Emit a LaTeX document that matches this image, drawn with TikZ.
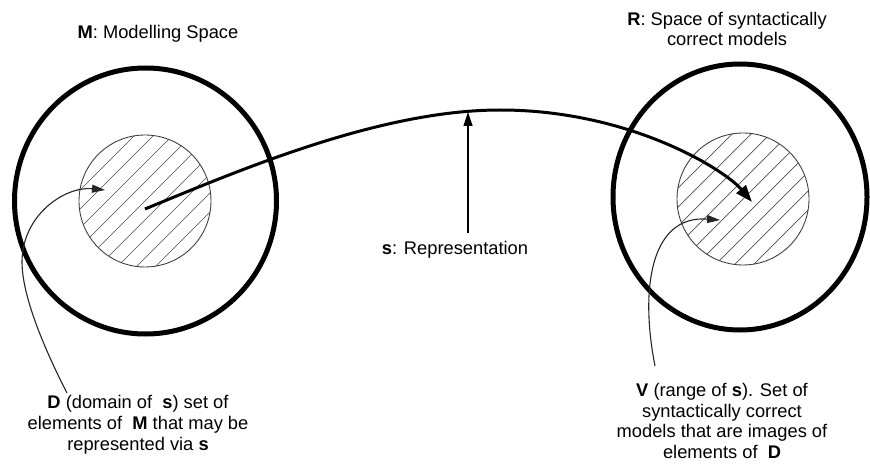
\documentclass[tikz,border=0pt]{standalone}
\usepackage{fontspec}
\setmainfont{Liberation Sans}
\usetikzlibrary{arrows.meta}
\begin{document}
\begin{tikzpicture}[x=1pt,y=-1pt,
  bigcirc/.style={line width=5pt},
  innercirc/.style={draw=black!75,line width=0.9pt},
  hatchline/.style={draw=black!70,line width=0.7pt},
  lbl/.style={font=\fontsize{18.3}{20.8}\selectfont, align=center, inner sep=0pt},
  mainarrow/.style={line width=3pt,-{Triangle[length=17pt,width=12pt]}},
  ptr/.style={line width=1.2pt,-{Triangle[length=14pt,width=9pt]}},
  thinptr/.style={draw=black!85,line width=1.1pt,-{Triangle[length=13pt,width=8pt]}}]
\useasboundingbox (0,0) rectangle (870,465);
% centres
\coordinate (L) at (145.5,201);
\coordinate (R) at (740,197);
\coordinate (Li) at (145,201);
\coordinate (Ri) at (743,199);
% big circles
\draw[bigcirc] (L) ellipse[x radius=131pt, y radius=133pt];
\draw[bigcirc] (R) ellipse[x radius=127pt, y radius=133pt];
% hatched inner circles
\begin{scope}
  \clip (Li) circle[radius=66pt];
  \foreach \k in {-8,...,8} \draw[hatchline] (Li) ++(\k*19-90,90) -- ++(180,-180);
\end{scope}
\draw[innercirc] (Li) circle[radius=66pt];
\begin{scope}
  \clip (Ri) circle[radius=66pt];
  \foreach \k in {-8,...,8} \draw[hatchline] (Ri) ++(\k*19-90,90) -- ++(180,-180);
\end{scope}
\draw[innercirc] (Ri) circle[radius=66pt];
% labels
\node[lbl] (mlab) at (158,34) {\textbf{M}: Modelling Space};
\node[lbl] (rlab) at (727,29) {\textbf{R}: Space of syntactically\\correct models};
\node[lbl] (slab) at (455,250) {\textbf{s}: Representation};
\node[lbl] (dlab) at (138,425) {\textbf{D} (domain of\ \ \textbf{s}) set of\\elements of\ \ \textbf{M} that may be\\represented via \textbf{s}};
\node[lbl] (vlab) at (722,421) {\textbf{V} (range of \textbf{s}). Set of\\syntactically correct\\models that are images of\\elements of\ \ \textbf{D}};
% connector end points
\coordinate (sA) at (145,209);
\coordinate (mpk) at (500,110);
\coordinate (sB) at (752,202);
\coordinate (stip) at (468,112);
\coordinate (sbot) at (468,233);
\coordinate (dA) at (67,393);
\coordinate (dM) at (22,262);
\coordinate (dB) at (105,190);
\coordinate (vA) at (655,366);
\coordinate (vB) at (720,220);
% connectors
\draw[mainarrow] (sA) .. controls (240,170) and (380,110) .. (mpk) .. controls (630,110) and (725,170) .. (sB);
\draw[ptr] (sbot) -- (stip);
\draw[thinptr] (dA) .. controls (50,360) and (22,300) .. (dM) .. controls (22,215) and (65,186) .. (dB);
\draw[thinptr] (vA) .. controls (640,290) and (650,215) .. (vB);
\end{tikzpicture}
\end{document}
